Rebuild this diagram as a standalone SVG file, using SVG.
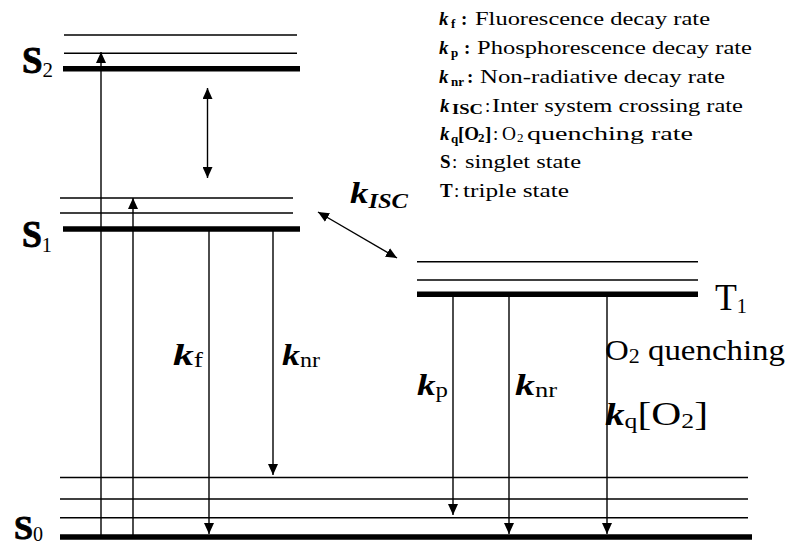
<svg xmlns="http://www.w3.org/2000/svg" width="789" height="546" viewBox="0 0 789 546" font-family="'Liberation Serif', 'Times New Roman', 'DejaVu Serif', serif">
<style>
  .thin{stroke:#000;stroke-width:1.4;fill:none}
  .thick{stroke:#000;stroke-width:5.5;fill:none}
  .arr{stroke:#000;stroke-width:1.4;fill:none;marker-end:url(#ah)}
  .darr{stroke:#000;stroke-width:1.4;fill:none;marker-end:url(#ah);marker-start:url(#ah)}
  text{fill:#000}
  .leg{font-size:19px}
  .legs{font-size:13px}
  .b{font-weight:bold}
  .bi{font-weight:bold;font-style:italic}
  .big{font-size:37px;stroke:#000;stroke-width:0.9}
  .sub{font-size:21px}
</style>
<defs>
  <marker id="ah" markerUnits="userSpaceOnUse" markerWidth="11" markerHeight="10" refX="11" refY="5" orient="auto-start-reverse">
    <path d="M0,0 L11,5 L0,10 z" fill="#000"/>
  </marker>
</defs>
<rect width="789" height="546" fill="#fff"/>

<g id="S2">
  <line class="thin" x1="64" y1="35" x2="297" y2="35"/>
  <line class="thin" x1="64" y1="53.3" x2="297" y2="53.3"/>
  <line class="thick" x1="63" y1="68.7" x2="300" y2="68.7"/>
  <text x="22" y="73" textLength="31" lengthAdjust="spacingAndGlyphs"><tspan class="b big">S</tspan><tspan class="sub" dy="4">2</tspan></text>
</g>

<g id="S1">
  <line class="thin" x1="60" y1="198" x2="293" y2="198"/>
  <line class="thin" x1="60" y1="213" x2="293" y2="213"/>
  <line class="thick" x1="63" y1="229" x2="300" y2="229"/>
  <text x="22" y="246.5" textLength="30" lengthAdjust="spacingAndGlyphs"><tspan class="b big">S</tspan><tspan class="sub" dy="5">1</tspan></text>
</g>

<g id="T1">
  <line class="thin" x1="417" y1="261.7" x2="698" y2="261.7"/>
  <line class="thin" x1="417" y1="280" x2="698" y2="280"/>
  <line class="thick" x1="417" y1="294.3" x2="698" y2="294.3"/>
  <text x="715" y="310" textLength="32" lengthAdjust="spacingAndGlyphs"><tspan style="font-size:37px">T</tspan><tspan class="sub" dy="3">1</tspan></text>
</g>

<g id="S0">
  <line class="thin" x1="60" y1="477.5" x2="748" y2="477.5"/>
  <line class="thin" x1="60" y1="499" x2="748" y2="499"/>
  <line class="thin" x1="60" y1="517.7" x2="748" y2="517.7"/>
  <line class="thick" x1="60" y1="537" x2="752" y2="537"/>
  <text x="14" y="539" textLength="29" lengthAdjust="spacingAndGlyphs"><tspan class="b big" style="font-size:34px">S</tspan><tspan style="font-size:20px" dy="2">0</tspan></text>
</g>

<g id="connectors">
  <line class="arr" x1="101" y1="537" x2="101" y2="52"/>
  <line class="arr" x1="133" y1="537" x2="133" y2="198"/>
  <line class="darr" x1="207.5" y1="88" x2="207.5" y2="178"/>
  <line class="arr" x1="209" y1="229" x2="209" y2="534"/>
  <line class="arr" x1="273" y1="229" x2="273" y2="475"/>
  <line class="darr" x1="318" y1="212" x2="397" y2="258"/>
  <line class="arr" x1="453" y1="294" x2="453" y2="515"/>
  <line class="arr" x1="509" y1="294" x2="509" y2="534"/>
  <line class="arr" x1="607" y1="294" x2="607" y2="534"/>
</g>

<g id="rate-labels">
  <text x="173" y="365" textLength="30" lengthAdjust="spacingAndGlyphs"><tspan class="bi" style="font-size:30px">k</tspan><tspan style="font-size:20px" dy="2">f</tspan></text>
  <text x="282" y="365" textLength="38" lengthAdjust="spacingAndGlyphs"><tspan class="bi" style="font-size:30px">k</tspan><tspan style="font-size:20px" dy="2">nr</tspan></text>
  <text x="417" y="395" textLength="31" lengthAdjust="spacingAndGlyphs"><tspan class="bi" style="font-size:30px">k</tspan><tspan style="font-size:20px" dy="2">p</tspan></text>
  <text x="515" y="395" textLength="42" lengthAdjust="spacingAndGlyphs"><tspan class="bi" style="font-size:30px">k</tspan><tspan style="font-size:20px" dy="2">nr</tspan></text>
  <text x="350" y="203" textLength="58" lengthAdjust="spacingAndGlyphs"><tspan class="bi" style="font-size:30px">k</tspan><tspan class="bi" style="font-size:20px" dy="5">ISC</tspan></text>
  <text x="605" y="360" textLength="180" lengthAdjust="spacingAndGlyphs"><tspan style="font-size:30px">O</tspan><tspan style="font-size:20px" dy="3">2</tspan><tspan style="font-size:30px" dy="-3"> quenching</tspan></text>
  <text x="605" y="425" textLength="103" lengthAdjust="spacingAndGlyphs"><tspan class="bi" style="font-size:32px">k</tspan><tspan style="font-size:21px" dy="3">q</tspan><tspan style="font-size:34px" dy="-3">[O</tspan><tspan style="font-size:21px" dy="3">2</tspan><tspan style="font-size:34px" dy="-3">]</tspan></text>
</g>

<g id="legend">
  <text class="leg" x="439" y="25"><tspan class="bi">k</tspan><tspan class="b legs" x="451" dy="3">f</tspan><tspan class="b" x="461" dy="-3">:</tspan></text>
  <text class="leg" x="475" y="25" textLength="235" lengthAdjust="spacingAndGlyphs">Fluorescence decay rate</text>

  <text class="leg" x="439" y="54"><tspan class="bi">k</tspan><tspan class="b legs" x="451" dy="3">p</tspan><tspan class="b" x="464" dy="-3">:</tspan></text>
  <text class="leg" x="477" y="54" textLength="275" lengthAdjust="spacingAndGlyphs">Phosphorescence decay rate</text>

  <text class="leg" x="439" y="83"><tspan class="bi">k</tspan><tspan class="b legs" x="451" dy="3">nr</tspan><tspan class="b" x="467" dy="-3">:</tspan></text>
  <text class="leg" x="480" y="83" textLength="245" lengthAdjust="spacingAndGlyphs">Non-radiative decay rate</text>

  <text class="leg" x="440" y="112"><tspan class="bi">k</tspan></text>
  <text class="b" style="font-size:14px" x="452" y="114" textLength="31" lengthAdjust="spacingAndGlyphs">ISC</text>
  <text class="leg" x="485" y="112">:</text>
  <text class="leg" x="492" y="112" textLength="251" lengthAdjust="spacingAndGlyphs">Inter system crossing rate</text>

  <text class="leg" x="440" y="140"><tspan class="bi">k</tspan><tspan class="b legs" x="451" dy="3">q</tspan><tspan class="b" x="458" dy="-3">[O</tspan><tspan class="b legs" x="478" dy="2">2</tspan><tspan class="b" x="485" dy="-2">]</tspan><tspan x="493">:</tspan></text>
  <text class="leg" x="502" y="140" textLength="14" lengthAdjust="spacingAndGlyphs">O</text>
  <text class="legs" x="517" y="142">2</text>
  <text class="leg" x="527" y="140" textLength="166" lengthAdjust="spacingAndGlyphs">quenching rate</text>

  <text class="leg" x="440" y="168"><tspan class="b">S</tspan><tspan x="452">:</tspan></text>
  <text class="leg" x="465" y="168" textLength="116" lengthAdjust="spacingAndGlyphs">singlet state</text>

  <text class="leg" x="440" y="197"><tspan class="b">T</tspan><tspan x="454">:</tspan></text>
  <text class="leg" x="463" y="197" textLength="106" lengthAdjust="spacingAndGlyphs">triple state</text>
</g>
</svg>
